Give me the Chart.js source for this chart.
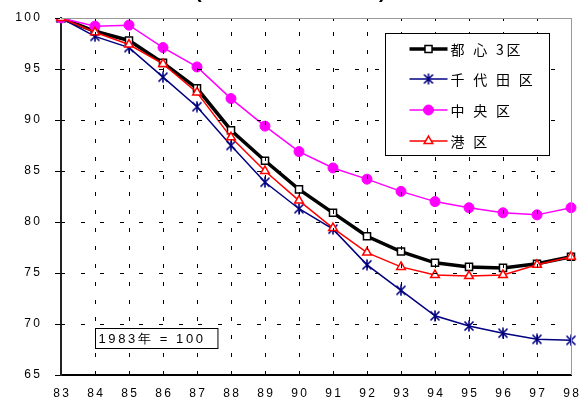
<!DOCTYPE html>
<html>
<head>
<meta charset="utf-8">
<script src="https://cdn.jsdelivr.net/npm/chart.js@4/dist/chart.umd.min.js"></script>
<style>
  html, body { margin: 0; padding: 0; background: #fff; }
  canvas { display: block; }
</style>
</head>
<body>
<canvas id="chart" width="581" height="399"></canvas>
<script>
// population index, 1983 = 100
const years = ['83', '84', '85', '86', '87', '88', '89', '90', '91', '92', '93', '94', '95', '96', '97', '98'];
const toshin3 = [100, 98.7, 97.8, 95.6, 93.1, 89.0, 86.0, 83.2, 80.9, 78.6, 77.1, 76.0, 75.6, 75.5, 75.9, 76.6];
const chiyoda = [100, 98.2, 97.1, 94.2, 91.3, 87.5, 83.9, 81.3, 79.3, 75.8, 73.3, 70.8, 69.8, 69.1, 68.5, 68.4];
const chuo    = [100, 99.2, 99.3, 97.1, 95.2, 92.1, 89.4, 86.9, 85.3, 84.2, 83.0, 82.0, 81.4, 80.9, 80.7, 81.4];
const minato  = [100, 98.6, 97.4, 95.5, 92.7, 88.3, 85.0, 82.1, 79.4, 77.0, 75.6, 74.8, 74.7, 74.8, 75.8, 76.6];
const yTicks = [65, 70, 75, 80, 85, 90, 95, 100];
const baseNote = '1983年 = 100';

const ctx = document.getElementById('chart').getContext('2d');

// spaced-out text like the old spreadsheet fonts
const spread = (s) => String(s).split('').join('\u2009');

// asterisk marker (x with a vertical stroke)
function asterisk(color) {
  const c = document.createElement('canvas');
  c.width = 12; c.height = 12;
  const g = c.getContext('2d');
  g.strokeStyle = color;
  g.lineWidth = 1.6;
  g.beginPath();
  g.moveTo(1.5, 1.5); g.lineTo(10.5, 10.5);
  g.moveTo(10.5, 1.5); g.lineTo(1.5, 10.5);
  g.moveTo(6, 0.5); g.lineTo(6, 11.5);
  g.stroke();
  return c;
}

function line(c, x1, y1, x2, y2) {
  c.beginPath();
  c.moveTo(x1, y1);
  c.lineTo(x2, y2);
  c.stroke();
}

// dashed grid, grey frame, note box, legend
const extras = {
  id: 'extras',
  afterDraw(chart) {
    const c = chart.ctx;
    const a = chart.chartArea;
    const xs = chart.scales.x, ys = chart.scales.y;
    c.save();

    // horizontal dashed lines + outer ticks
    c.fillStyle = '#000';
    yTicks.forEach(v => {
      const y = Math.round(ys.getPixelForValue(v));
      c.fillRect(a.left - 6, y, 5, 1);
      if (v === yTicks[0] || v === yTicks[yTicks.length - 1]) return;
      for (let x = a.left; x < a.right - 3; x += 19.6) c.fillRect(Math.round(x), y, 4, 1);
    });

    // vertical dashed lines
    years.forEach((_, i) => {
      if (i === 0 || i === years.length - 1) return;
      const x = Math.round(xs.getPixelForValue(i));
      for (let y = a.bottom; y > a.top + 3; y -= 17.85) c.fillRect(x, Math.round(y) - 4, 1, 4);
      c.fillRect(x, a.top, 1, 3);
    });

    // grey frame top/right
    c.fillStyle = '#999';
    c.fillRect(a.left, a.top, a.right - a.left + 1, 1);
    c.fillRect(a.right, a.top, 1, a.bottom - a.top);

    // note box
    const note = spread(baseNote);
    c.font = '13px "Liberation Sans", Arial, sans-serif';
    const w = c.measureText(note).width;
    const bx = Math.round(xs.getPixelForValue(1)) + 0.5;
    const by = Math.round(ys.getPixelForValue(69.6)) + 0.5;
    c.fillStyle = '#fff';
    c.fillRect(bx, by, w + 18, 20);
    c.strokeStyle = '#000';
    c.lineWidth = 1;
    c.strokeRect(bx, by, w + 18, 20);
    c.fillStyle = '#000';
    c.textBaseline = 'middle';
    c.fillText(note, bx + 3, by + 11);

    // clipped heading
    c.font = 'bold 20px "Liberation Sans", Arial, sans-serif';
    c.textBaseline = 'alphabetic';
    c.fillText('(', 195, -2);
    c.fillText(')', 379, -2);

    // legend
    const lx = Math.round(a.right - 186) + 0.5;
    const ly = Math.round(a.top + 15) + 0.5;
    c.fillStyle = '#fff';
    c.fillRect(lx, ly, 164, 122);
    c.strokeStyle = '#000';
    c.lineWidth = 1;
    c.strokeRect(lx, ly, 164, 122);
    c.font = '14px "Noto Sans CJK JP", sans-serif';
    c.textBaseline = 'middle';
    chart.data.datasets.forEach((ds, i) => {
      const y = Math.round(ly + 15 + i * 30.7);
      c.strokeStyle = ds.borderColor;
      c.lineWidth = ds.borderWidth;
      line(c, lx + 24, y, lx + 62, y);
      c.fillStyle = ds.pointBackgroundColor;
      c.strokeStyle = ds.borderColor;
      c.lineWidth = ds.pointBorderWidth;
      Chart.helpers.drawPoint(c, { pointStyle: ds.pointStyle, radius: ds.pointRadius, borderWidth: ds.pointBorderWidth, rotation: 0 }, lx + 43, y);
      c.fillStyle = '#000';
      c.fillText(spread(ds.label), lx + 65, y + 1);
    });
    c.restore();
  }
};

new Chart(ctx, {
  type: 'line',
  data: {
    labels: years,
    datasets: [
      {
        label: '都 心 3区', data: toshin3, order: 3,
        borderColor: '#000', borderWidth: 3.5,
        pointStyle: 'rect', pointRadius: 5, pointBorderWidth: 1.5,
        pointBackgroundColor: '#fff', pointBorderColor: '#000'
      },
      {
        label: '千 代 田 区', data: chiyoda, order: 2,
        borderColor: '#000080', borderWidth: 1.5,
        pointStyle: asterisk('#000080'), pointRadius: 6, pointBorderWidth: 1.5,
        pointBackgroundColor: '#000080', pointBorderColor: '#000080'
      },
      {
        label: '中 央 区', data: chuo, order: 1,
        borderColor: '#ff00ff', borderWidth: 1.5,
        pointStyle: 'circle', pointRadius: 5, pointBorderWidth: 1,
        pointBackgroundColor: '#ff00ff', pointBorderColor: '#ff00ff'
      },
      {
        label: '港 区', data: minato, order: 0,
        borderColor: '#ff0000', borderWidth: 1.5,
        pointStyle: 'triangle', pointRadius: 5, pointBorderWidth: 1.5,
        pointBackgroundColor: '#fff', pointBorderColor: '#ff0000'
      }
    ]
  },
  options: {
    responsive: false,
    animation: false,
    devicePixelRatio: 1,
    layout: { padding: { top: 18, right: 10, left: 0, bottom: 0 } },
    plugins: {
      legend: { display: false },
      tooltip: { enabled: false }
    },
    elements: { line: { tension: 0 } },
    scales: {
      x: {
        offset: false,
        afterFit(axis) {
          axis.height = 24;
          axis.paddingLeft = 0;
          axis.paddingRight = 0;
        },
        grid: { drawOnChartArea: false, drawTicks: false },
        border: { color: '#000', width: 2 },
        ticks: {
          color: '#000', padding: 11, maxRotation: 0, autoSkip: false,
          font: { family: '"Liberation Sans", Arial, sans-serif', size: 12 },
          callback: (v, i) => spread(years[i])
        }
      },
      y: {
        min: 65, max: 100,
        afterFit(axis) {
          axis.width = 61;
          axis.paddingTop = 0;
          axis.paddingBottom = 0;
        },
        afterBuildTicks(axis) { axis.ticks = yTicks.map(v => ({ value: v })); },
        grid: { drawOnChartArea: false, drawTicks: false },
        border: { color: '#222', width: 2 },
        ticks: {
          color: '#000', padding: 21,
          font: { family: '"Liberation Sans", Arial, sans-serif', size: 12 },
          callback: (v) => spread(v)
        }
      }
    }
  },
  plugins: [extras]
});
</script>
</body>
</html>
